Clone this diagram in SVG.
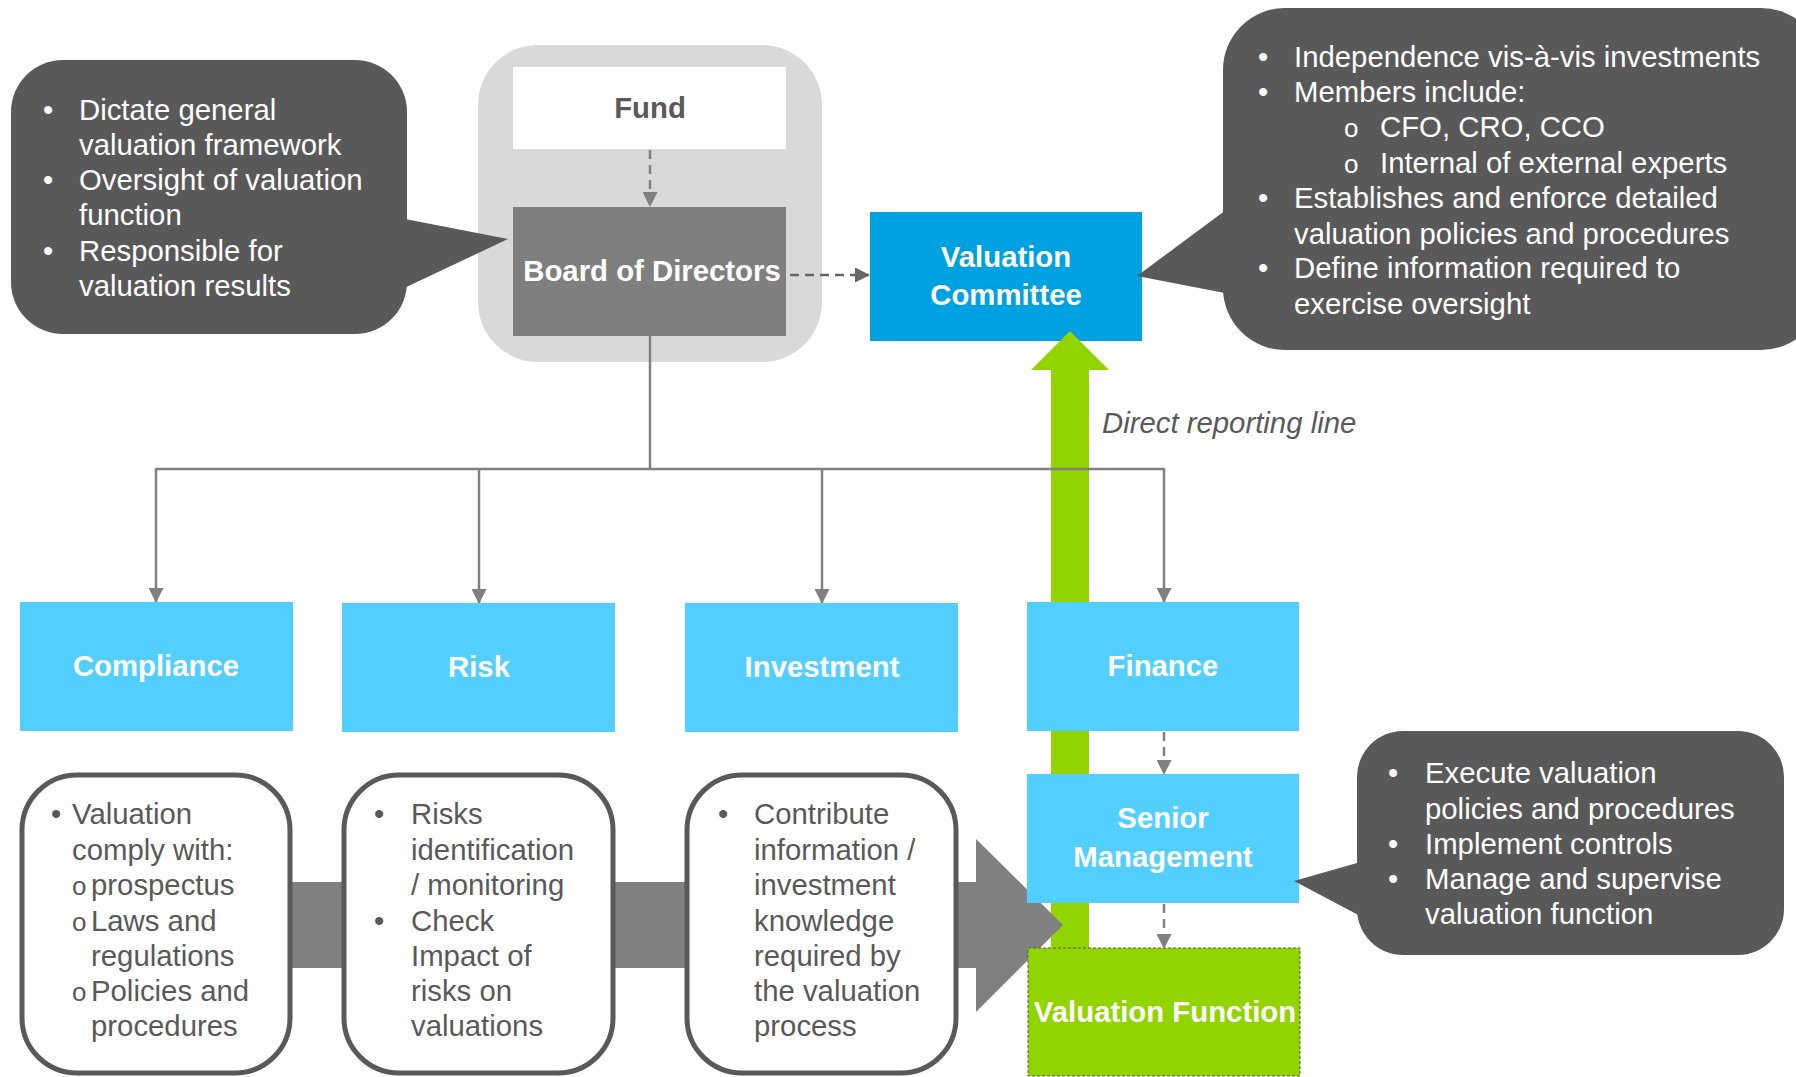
<svg xmlns="http://www.w3.org/2000/svg" width="1796" height="1077" viewBox="0 0 1796 1077">
<style>
text{font-family:"Liberation Sans",Arial,sans-serif;font-size:29.33px}
.lbl{font-weight:bold;fill:#fff;text-anchor:middle}
.cb{fill:#595959}
.ct{fill:#fff}
.bt{fill:#595959}
.sb{font-size:26px}
.conn{fill:none;stroke:#808080;stroke-width:2.5}
.dash{fill:none;stroke:#808080;stroke-width:2.5;stroke-dasharray:9 6}
.blue{fill:#53cfff}
.wbox{fill:#fff;stroke:#595959;stroke-width:5}
</style>
<defs>
<marker id="ah" viewBox="0 0 15 15" refX="14" refY="7.5" markerWidth="15" markerHeight="15" markerUnits="userSpaceOnUse" orient="auto">
<path d="M0,0 L15,7.5 L0,15 z" fill="#808080"/>
</marker>
<marker id="ahd" viewBox="0 0 15 15" refX="14" refY="7.5" markerWidth="15" markerHeight="15" markerUnits="userSpaceOnUse" orient="auto">
<path d="M0,0 L15,7.5 L0,15 z" fill="#666"/>
</marker>
</defs>
<rect width="1796" height="1077" fill="#fff"/>

<g id="board-container">
<rect x="478" y="45" width="344" height="317" rx="60" fill="#d9d9d9"/>
</g>
<g id="fund">
<rect x="513" y="67" width="273" height="82" fill="#fff"/>
<text x="650" y="118" text-anchor="middle" font-weight="bold" fill="#595959">Fund</text>
</g>
<g id="board">
<rect x="513" y="207" width="273" height="129" fill="#7f7f7f"/>
<text class="lbl" x="652" y="281">Board of Directors</text>
</g>
<g id="committee">
<rect x="870" y="212" width="272" height="129" fill="#00a1e0"/>
<text class="lbl" x="1006" y="267">Valuation</text>
<text class="lbl" x="1006" y="305">Committee</text>
</g>

<g id="reporting-arrow">
<rect x="1051" y="368" width="38" height="584" fill="#92d400"/>
<polygon points="1031,370 1070,331 1109,370" fill="#92d400"/>
</g>
<g id="flow-arrow">
<rect x="200" y="882" width="778" height="86" fill="#808080"/>
<polygon points="976,839 1063,925 976,1012" fill="#808080"/>
</g>

<g id="connectors">
<line class="dash" x1="650" y1="150" x2="650" y2="206" marker-end="url(#ah)"/>
<line class="dash" x1="790" y1="275" x2="869" y2="275" marker-end="url(#ahd)" style="stroke:#666"/>
<line class="conn" x1="650" y1="336" x2="650" y2="469"/>
<line class="conn" x1="156" y1="469" x2="1164" y2="469"/>
<line class="conn" x1="156" y1="468" x2="156" y2="602" marker-end="url(#ah)"/>
<line class="conn" x1="479" y1="468" x2="479" y2="603" marker-end="url(#ah)"/>
<line class="conn" x1="822" y1="468" x2="822" y2="603" marker-end="url(#ah)"/>
<line class="conn" x1="1164" y1="468" x2="1164" y2="602" marker-end="url(#ah)"/>
<line class="dash" x1="1164" y1="732" x2="1164" y2="774" marker-end="url(#ah)"/>
<line class="dash" x1="1164" y1="904" x2="1164" y2="948" marker-end="url(#ah)"/>
</g>

<g id="compliance">
<rect class="blue" x="20" y="602" width="273" height="129"/>
<text class="lbl" x="156" y="676">Compliance</text>
</g>
<g id="risk">
<rect class="blue" x="342" y="603" width="273" height="129"/>
<text class="lbl" x="479" y="677">Risk</text>
</g>
<g id="investment">
<rect class="blue" x="685" y="603" width="273" height="129"/>
<text class="lbl" x="822" y="677">Investment</text>
</g>
<g id="finance">
<rect class="blue" x="1027" y="602" width="272" height="129"/>
<text class="lbl" x="1163" y="676">Finance</text>
</g>
<g id="senior-management">
<rect class="blue" x="1027" y="774" width="272" height="129"/>
<text class="lbl" x="1163" y="828">Senior</text>
<text class="lbl" x="1163" y="867">Management</text>
</g>
<g id="valuation-function">
<rect x="1028" y="948" width="272" height="128" fill="#92d400" stroke="#595959" stroke-width="1" stroke-dasharray="3 2"/>
<text class="lbl" x="1165" y="1022">Valuation Function</text>
</g>

<g id="compliance-detail">
<rect class="wbox" x="22" y="775" width="268" height="298" rx="55"/>
<text class="bt" x="51" y="824">•</text>
<text class="bt" x="72" y="824">Valuation</text>
<text class="bt" x="72" y="860">comply with:</text>
<text class="bt sb" x="72" y="895">o</text>
<text class="bt" x="91" y="895">prospectus</text>
<text class="bt sb" x="72" y="931">o</text>
<text class="bt" x="91" y="931">Laws and</text>
<text class="bt" x="91" y="966">regulations</text>
<text class="bt sb" x="72" y="1001">o</text>
<text class="bt" x="91" y="1001">Policies and</text>
<text class="bt" x="91" y="1036">procedures</text>
</g>
<g id="risk-detail">
<rect class="wbox" x="344" y="775" width="269" height="298" rx="55"/>
<text class="bt" x="374" y="824">•</text>
<text class="bt" x="411" y="824">Risks</text>
<text class="bt" x="411" y="860">identification</text>
<text class="bt" x="411" y="895">/ monitoring</text>
<text class="bt" x="374" y="931">•</text>
<text class="bt" x="411" y="931">Check</text>
<text class="bt" x="411" y="966">Impact of</text>
<text class="bt" x="411" y="1001">risks on</text>
<text class="bt" x="411" y="1036">valuations</text>
</g>
<g id="investment-detail">
<rect class="wbox" x="687" y="775" width="269" height="298" rx="55"/>
<text class="bt" x="718" y="824">•</text>
<text class="bt" x="754" y="824">Contribute</text>
<text class="bt" x="754" y="860">information /</text>
<text class="bt" x="754" y="895">investment</text>
<text class="bt" x="754" y="931">knowledge</text>
<text class="bt" x="754" y="966">required by</text>
<text class="bt" x="754" y="1001">the valuation</text>
<text class="bt" x="754" y="1036">process</text>
</g>

<g id="board-callout">
<rect class="cb" x="11" y="60" width="396" height="274" rx="52"/>
<polygon class="cb" points="400,218 508,239 400,290"/>
<text class="ct" x="43" y="120">•</text>
<text class="ct" x="79" y="120">Dictate general</text>
<text class="ct" x="79" y="155">valuation framework</text>
<text class="ct" x="43" y="190">•</text>
<text class="ct" x="79" y="190">Oversight of valuation</text>
<text class="ct" x="79" y="225">function</text>
<text class="ct" x="43" y="261">•</text>
<text class="ct" x="79" y="261">Responsible for</text>
<text class="ct" x="79" y="296">valuation results</text>
</g>
<g id="committee-callout">
<rect class="cb" x="1223" y="8" width="600" height="342" rx="62"/>
<polygon class="cb" points="1230,207 1137,276 1230,294"/>
<text class="ct" x="1258" y="67">•</text>
<text class="ct" x="1294" y="67">Independence vis-à-vis investments</text>
<text class="ct" x="1258" y="102">•</text>
<text class="ct" x="1294" y="102">Members include:</text>
<text class="ct sb" x="1344" y="137">o</text>
<text class="ct" x="1380" y="137">CFO, CRO, CCO</text>
<text class="ct sb" x="1344" y="173">o</text>
<text class="ct" x="1380" y="173">Internal of external experts</text>
<text class="ct" x="1258" y="208">•</text>
<text class="ct" x="1294" y="208">Establishes and enforce detailed</text>
<text class="ct" x="1294" y="244">valuation policies and procedures</text>
<text class="ct" x="1258" y="278">•</text>
<text class="ct" x="1294" y="278">Define information required to</text>
<text class="ct" x="1294" y="314">exercise oversight</text>
</g>
<g id="senior-callout">
<rect class="cb" x="1357" y="731" width="427" height="224" rx="46"/>
<polygon class="cb" points="1364,861 1294,881 1364,918"/>
<text class="ct" x="1388" y="783">•</text>
<text class="ct" x="1425" y="783">Execute valuation</text>
<text class="ct" x="1425" y="819">policies and procedures</text>
<text class="ct" x="1388" y="854">•</text>
<text class="ct" x="1425" y="854">Implement controls</text>
<text class="ct" x="1388" y="889">•</text>
<text class="ct" x="1425" y="889">Manage and supervise</text>
<text class="ct" x="1425" y="924">valuation function</text>
</g>

<text x="1102" y="433" font-style="italic" fill="#595959">Direct reporting line</text>
</svg>
